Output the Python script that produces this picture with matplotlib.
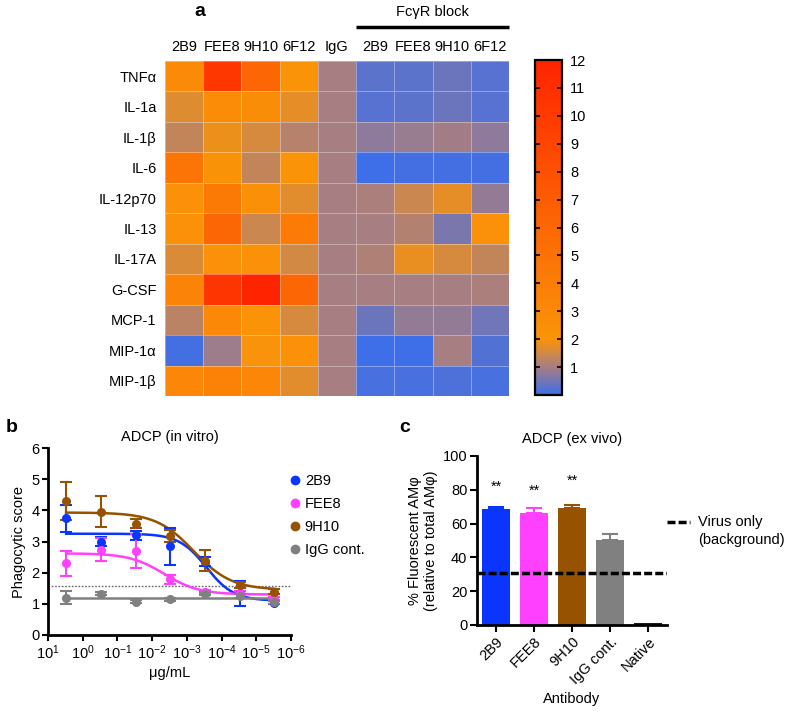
import numpy as np
import matplotlib
matplotlib.use("Agg")
import matplotlib.pyplot as plt
from matplotlib.colors import LinearSegmentedColormap
from matplotlib.lines import Line2D
from matplotlib.ticker import LogLocator, NullLocator

plt.rcParams['font.family'] = ['Liberation Sans', 'DejaVu Sans']
plt.rcParams['mathtext.default'] = 'regular'
plt.rcParams['font.size'] = 10.5

# ---- panel a: cytokine fold change heatmap
cytokines = ["TNFα", "IL-1a", "IL-1β", "IL-6", "IL-12p70", "IL-13",
             "IL-17A", "G-CSF", "MCP-1", "MIP-1α", "MIP-1β"]
columns = ["2B9", "FEE8", "9H10", "6F12", "IgG", "2B9", "FEE8", "9H10", "6F12"]
fold = np.array([
    [2.9, 10.3, 6.1, 2.1, 1.0, 0.30, 0.30, 0.45, 0.25],
    [1.65, 2.7, 2.6, 1.75, 1.0, 0.28, 0.30, 0.45, 0.24],
    [1.35, 1.85, 1.55, 1.2, 1.0, 0.75, 0.88, 0.95, 0.78],
    [4.8, 2.2, 1.35, 2.1, 1.0, 0.04, 0.05, 0.05, 0.05],
    [2.3, 4.3, 2.4, 1.7, 1.0, 1.05, 1.45, 1.75, 0.82],
    [2.3, 6.0, 1.45, 4.2, 1.0, 1.0, 1.15, 0.6, 2.3],
    [1.6, 2.3, 2.3, 1.5, 1.0, 1.1, 1.8, 1.55, 1.35],
    [3.5, 10.5, 12.0, 6.0, 1.0, 1.0, 1.0, 1.0, 1.05],
    [1.25, 3.0, 2.1, 1.55, 1.0, 0.45, 0.8, 0.8, 0.5],
    [0.08, 0.9, 2.0, 2.3, 1.0, 0.03, 0.02, 1.0, 0.2],
    [3.3, 3.6, 3.3, 1.7, 1.0, 0.1, 0.1, 0.18, 0.1],
])
cbar_ticks = list(range(1, 13))

# ---- panel b: ADCP in vitro
conc = [3, 0.3, 0.03, 3e-3, 3e-4, 3e-5, 3e-6]
b_names = ["2B9", "FEE8", "9H10", "IgG cont."]
b_mean = {
    "2B9": [3.75, 3.0, 3.2, 2.84, 2.35, 1.34, 1.03],
    "FEE8": [2.3, 2.73, 2.7, 1.79, 1.39, 1.36, 1.18],
    "9H10": [4.3, 3.95, 3.57, 3.18, 2.39, 1.61, 1.38],
    "IgG cont.": [1.2, 1.32, 1.07, 1.15, 1.32, 1.25, 1.05],
}
b_err = {
    "2B9": [0.43, 0.15, 0.15, 0.58, 0.15, 0.4, 0.05],
    "FEE8": [0.4, 0.37, 0.55, 0.15, 0.05, 0.05, 0.05],
    "9H10": [0.62, 0.5, 0.15, 0.2, 0.35, 0.1, 0.08],
    "IgG cont.": [0.2, 0.05, 0.05, 0.05, 0.05, 0.05, 0.05],
}
# 4-parameter logistic fits (top, bottom, logEC50, hill); IgG is a flat line
fit_top = {"2B9": 3.25, "FEE8": 2.62, "9H10": 3.93, "IgG cont.": 1.18}
fit_bottom = {"2B9": 1.1, "FEE8": 1.3, "9H10": 1.45, "IgG cont.": 1.18}
fit_logec50 = {"2B9": -3.56, "FEE8": -2.35, "9H10": -3.2, "IgG cont.": -3.0}
fit_hill = {"2B9": 1.1, "FEE8": 0.87, "9H10": 0.8, "IgG cont.": 1.0}
b_threshold = 1.58

# ---- panel c: ADCP ex vivo
c_names = ["2B9", "FEE8", "9H10", "IgG cont.", "Native"]
c_mean = [68.9, 66.3, 69.5, 50.2, 1.2]
c_err = [1.0, 3.2, 1.8, 3.5, 0.0]
c_stars = {"2B9": 81.7, "FEE8": 79.7, "9H10": 85.6}
virus_only = 30.7

colors = {"2B9": "#0A35FF", "FEE8": "#FF40FF", "9H10": "#975200",
          "IgG cont.": "#808080", "Native": "#1a1a1a"}

W, H = 787, 712
fig = plt.figure(figsize=(W / 100, H / 100), dpi=100)

def box(x0, y0, x1, y1):
    return [x0 / W, 1 - y1 / H, (x1 - x0) / W, (y1 - y0) / H]

cmap = LinearSegmentedColormap.from_list(
    "fc", [(0, "#3E6EE8"), (1 / 12, "#A87E80"), (2 / 12, "#FA9408"), (1, "#FF2400")])

ax_h = fig.add_axes(box(165, 61, 509, 396))
mesh = ax_h.pcolormesh(fold, cmap=cmap, vmin=0, vmax=12,
                       edgecolors=(1, 1, 1, 0.35), linewidth=0.7)
ax_h.set_xticks(np.arange(len(columns)) + 0.5, columns)
ax_h.set_yticks(np.arange(len(cytokines)) + 0.5, cytokines)
ax_h.xaxis.tick_top()
ax_h.tick_params(length=0, labelsize=10.5)
ax_h.tick_params(axis='x', pad=5)
ax_h.tick_params(axis='y', pad=6)
for s in ax_h.spines.values():
    s.set_visible(False)
ax_h.plot([5, 9], [-1.12, -1.12], color='black', lw=2.5, clip_on=False,
          solid_capstyle='butt')
ax_h.text(7, -1.62, "FcγR block", ha='center', va='center', fontsize=10.5)
ax_h.set_xlim(0, len(columns))
ax_h.set_ylim(len(cytokines), 0)

cax = fig.add_axes(box(535, 60, 562, 395))
cb = fig.colorbar(mesh, cax=cax, ticks=cbar_ticks)
cb.outline.set_linewidth(1.6)
cax.tick_params(direction='in', left=True, right=True, length=3.5, width=1.2,
                labelsize=10.5, pad=6)

# panel b
ax_b = fig.add_axes(box(48, 448, 291, 635))
xs = np.logspace(np.log10(conc[0]), np.log10(conc[-1]), 200)
for name in b_names:
    c = colors[name]
    top, bot = fit_top[name], fit_bottom[name]
    curve = bot + (top - bot) / (1 + 10 ** ((fit_logec50[name] - np.log10(xs)) * fit_hill[name]))
    ax_b.plot(xs, curve, color=c, lw=1.8, zorder=2)
    ax_b.errorbar(conc, b_mean[name], yerr=b_err[name], fmt='o', color=c,
                  markersize=5.5, elinewidth=1.5, capsize=4, capthick=1.5, zorder=3)
ax_b.axhline(b_threshold, color='#666666', lw=1, ls=(0, (1.2, 1.2)), zorder=1)
ax_b.set_xscale('log')
ax_b.set_xlim(10, 1e-6)
ax_b.set_ylim(0, 6)
ax_b.xaxis.set_major_locator(LogLocator(base=10, numticks=12))
ax_b.xaxis.set_minor_locator(NullLocator())
ax_b.set_yticks(range(0, 7))
ax_b.set_title("ADCP (in vitro)", fontsize=10.5, pad=5)
ax_b.set_xlabel("μg/mL", fontsize=10.5, labelpad=3)
ax_b.set_ylabel("Phagocytic score", fontsize=10.5, labelpad=4)
for s in ["top", "right"]:
    ax_b.spines[s].set_visible(False)
for s in ["left", "bottom"]:
    ax_b.spines[s].set_linewidth(2)
ax_b.tick_params(direction='out', length=4, width=1.5, labelsize=10.5, pad=2)
handles = [Line2D([], [], marker='o', ls='none', color=colors[n], markersize=6) for n in b_names]
ax_b.legend(handles, b_names, loc='upper left', bbox_to_anchor=(0.985, 0.86),
            frameon=False, handletextpad=0.2, labelspacing=0.62, handlelength=1,
            borderaxespad=0, borderpad=0, fontsize=10.5)

# panel c
ax_c = fig.add_axes(box(477, 456, 667, 625))
xc = np.arange(len(c_names))
ax_c.bar(xc, c_mean, width=0.74, color=[colors[n] for n in c_names], zorder=2)
for i, n in enumerate(c_names):
    if c_err[i] > 0:
        ax_c.errorbar(i, c_mean[i], yerr=[[0], [c_err[i]]], fmt='none',
                      ecolor=colors[n], elinewidth=1.5, capsize=5.5, capthick=1.5, zorder=1)
    if n in c_stars:
        ax_c.text(i, c_stars[n], "**", ha='center', va='center', fontsize=10.5)
dash = (0, (2.3, 0.9))
ax_c.axhline(virus_only, color='black', lw=2.5, ls=dash, zorder=3)
ax_c.set_xlim(-0.5, len(c_names) - 0.5)
ax_c.set_ylim(0, 100)
ax_c.set_yticks(range(0, 101, 20))
ax_c.set_xticks(xc, c_names, rotation=45, ha='right', rotation_mode='anchor')
ax_c.set_title("ADCP (ex vivo)", fontsize=10.5, pad=9)
ax_c.set_xlabel("Antibody", fontsize=10.5, labelpad=4)
ax_c.set_ylabel("% Fluorescent AMφ\n(relative to total AMφ)", fontsize=10.5, labelpad=3)
for s in ["top", "right"]:
    ax_c.spines[s].set_visible(False)
for s in ["left", "bottom"]:
    ax_c.spines[s].set_linewidth(2)
ax_c.tick_params(direction='out', length=5, width=1.5, labelsize=10.5, pad=2)
# legend key for the background line
ax_c.plot([1.0, 1.12], [0.609, 0.609], transform=ax_c.transAxes, clip_on=False,
          color='black', lw=2.5, ls=dash)
ax_c.text(1.163, 0.609, "Virus only", transform=ax_c.transAxes, va='center', fontsize=10.5)
ax_c.text(1.163, 0.503, "(background)", transform=ax_c.transAxes, va='center', fontsize=10.5)

fig.text(200 / W, 1 - 12 / H, "a", fontsize=14, weight='bold', ha='center', va='center')
fig.text(12 / W, 1 - 427 / H, "b", fontsize=14, weight='bold', ha='center', va='center')
fig.text(405 / W, 1 - 427 / H, "c", fontsize=14, weight='bold', ha='center', va='center')

fig.savefig("out.png", dpi=100)
